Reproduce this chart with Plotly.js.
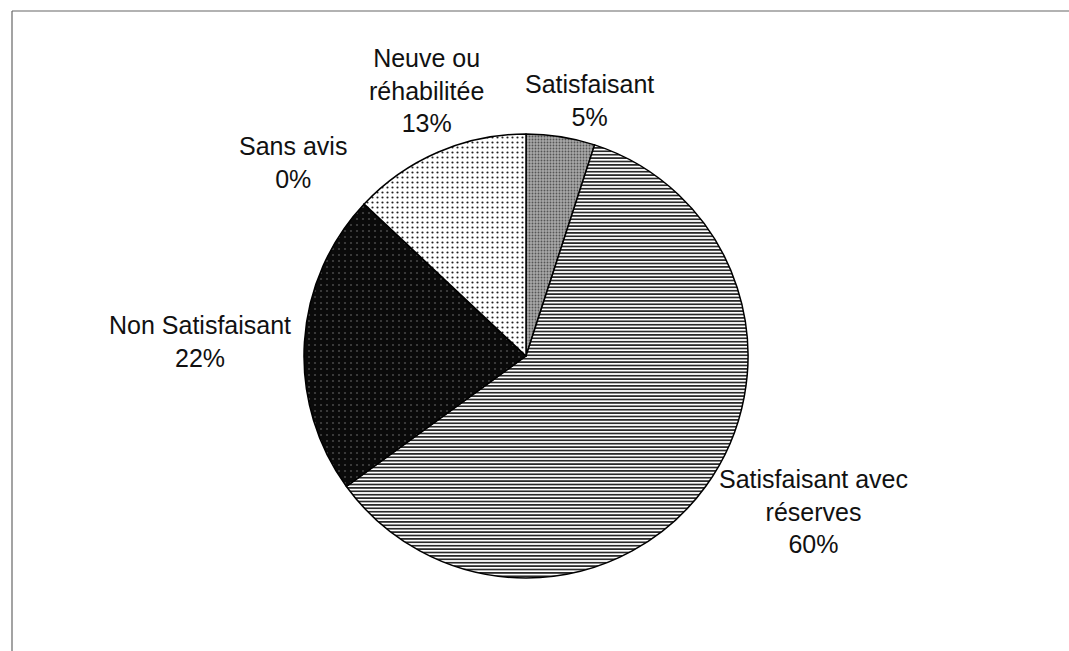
<!DOCTYPE html>
<html>
<head>
<meta charset="utf-8">
<script src="https://cdn.plot.ly/plotly-3.0.1.min.js"></script>
<style>html,body{margin:0;padding:0;background:#fff;}#chart{width:1069px;height:651px;}</style>
</head>
<body>
<div id="chart"></div>
<script>
// Data
var categories = ["Satisfaisant", "Satisfaisant avec réserves", "Non Satisfaisant", "Sans avis", "Neuve ou réhabilitée"];
var displayLabels = ["Satisfaisant", "Satisfaisant avec<br>réserves", "Non Satisfaisant", "Sans avis", "Neuve ou<br>réhabilitée"];
var percentValues = [5, 60, 22, 0, 13];

// Label placement (layout, paper px)
var labelPos = [
  {x: 589, y: 100},
  {x: 813, y: 511},
  {x: 200, y: 342},
  {x: 293, y: 162},
  {x: 426, y: 90}
];

var W = 1069, H = 651;
var cx = 526, cy = 356, r = 222;

var trace = {
  type: 'pie',
  labels: categories,
  values: percentValues,
  sort: false,
  direction: 'clockwise',
  rotation: 0,
  textinfo: 'none',
  hoverinfo: 'label+percent',
  showlegend: false,
  domain: {
    x: [(cx - r) / W, (cx + r) / W],
    y: [(H - cy - r) / H, (H - cy + r) / H]
  },
  marker: {
    colors: ['#a8a8a8', '#ffffff', '#0a0a0a', '#ffffff', '#ffffff'],
    line: {color: '#000000', width: 1.5},
    pattern: {
      shape: ['.', '-', '.', '', '.'],
      fgcolor: ['#555555', '#111111', '#444444', '#000000', '#222222'],
      bgcolor: ['#a8a8a8', '#ffffff', '#0a0a0a', '#ffffff', '#ffffff'],
      size: [3, 3.4, 6, 6, 5],
      solidity: [0.3, 0.45, 0.1, 0.1, 0.15],
      fillmode: 'replace'
    }
  }
};

var annotations = categories.map(function (c, i) {
  return {
    xref: 'paper', yref: 'paper',
    x: labelPos[i].x / W, y: 1 - labelPos[i].y / H,
    xanchor: 'center', yanchor: 'middle',
    text: displayLabels[i] + '<br>' + percentValues[i] + '%',
    showarrow: false,
    align: 'center',
    font: {family: 'Liberation Sans, Arial, sans-serif', size: 25, color: '#111111'}
  };
});

var layout = {
  width: W, height: H,
  margin: {l: 0, r: 0, t: 0, b: 0},
  paper_bgcolor: '#ffffff',
  annotations: annotations,
  shapes: [
    {type: 'line', xref: 'paper', yref: 'paper', x0: 12 / W, x1: 1, y0: 1 - 11 / H, y1: 1 - 11 / H, line: {color: '#666666', width: 1.2}},
    {type: 'line', xref: 'paper', yref: 'paper', x0: 12 / W, x1: 12 / W, y0: 0, y1: 1 - 11 / H, line: {color: '#666666', width: 1.2}}
  ]
};

Plotly.newPlot('chart', [trace], layout, {displayModeBar: false, staticPlot: true});
</script>
</body>
</html>
